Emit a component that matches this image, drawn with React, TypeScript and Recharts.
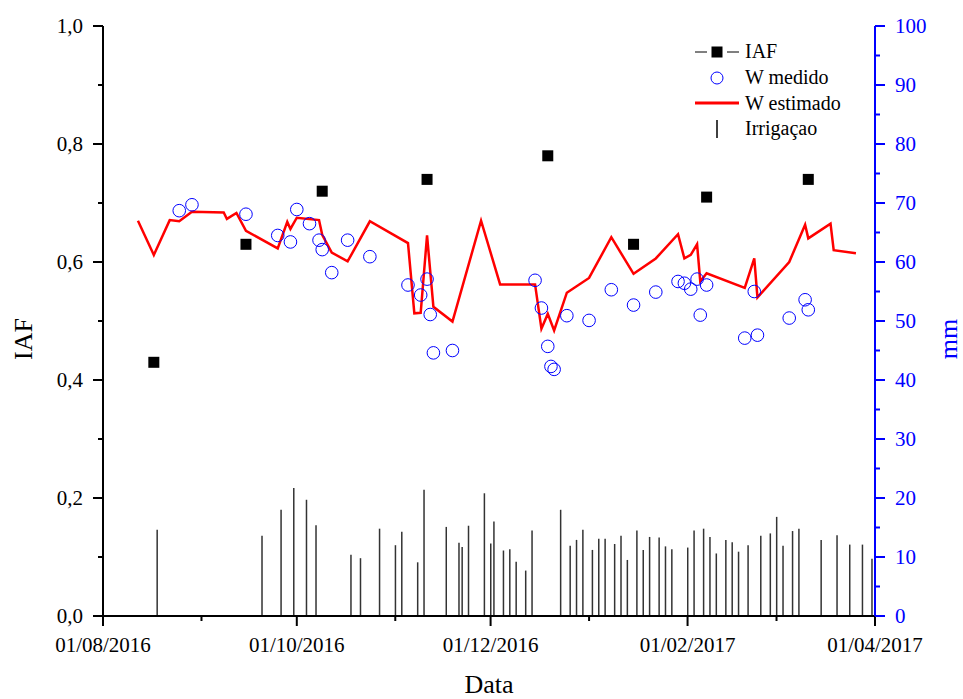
import { ComposedChart, Line, Scatter, Bar, XAxis, YAxis, Legend } from 'recharts'

const SERIF = '"Liberation Serif", "Times New Roman", serif'
const INICIO = Date.UTC(2016, 7, 1)
const DIA_MS = 86400000

// days counted from 01/08/2016
const iafDias = [16, 45, 69, 102, 140, 167, 190, 222]
const iafValores = [0.43, 0.63, 0.72, 0.74, 0.78, 0.63, 0.71, 0.74]

const medidoDias = [
  24, 28, 45, 55, 59, 61, 65, 68, 69, 72, 77, 84, 96, 100, 102, 103, 104, 110,
  136, 138, 140, 141, 142, 146, 153, 160, 167, 174, 181, 183, 185, 187, 188, 190,
  202, 205, 206, 216, 221, 222,
]
const medidoMm = [
  68.7, 69.7, 68.1, 64.5, 63.4, 68.9, 66.5, 63.7, 62.1, 58.2, 63.7, 60.9, 56.1, 54.4,
  57.1, 51.1, 44.6, 45.0, 56.9, 52.2, 45.7, 42.3, 41.8, 50.9, 50.1, 55.3, 52.7, 54.9,
  56.7, 56.4, 55.4, 57.1, 51.0, 56.1, 47.1, 55.0, 47.6, 50.5, 53.6, 51.9,
]

const estimadoDias = [
  11, 16, 21, 24, 28, 38, 39, 42, 45, 55, 58, 59, 61, 68, 69, 72, 77, 84, 96, 98,
  100, 102, 104, 110, 119, 125, 136, 138, 140, 142, 146, 153, 160, 167, 174, 181,
  183, 185, 187, 188, 190, 202, 205, 206, 216, 221, 222, 229, 230, 237,
]
const estimadoMm = [
  67.0, 61.2, 67.1, 66.9, 68.5, 68.4, 67.3, 68.3, 65.3, 62.3, 66.8, 65.6, 67.5, 67.1,
  64.6, 61.6, 60.1, 66.9, 63.2, 51.3, 51.4, 64.5, 52.4, 49.9, 67.0, 56.2, 56.2, 48.7,
  51.2, 48.4, 54.8, 57.3, 64.2, 58.0, 60.6, 64.7, 60.6, 61.2, 63.0, 56.7, 58.1, 55.6,
  60.6, 54.0, 60.0, 66.3, 64.0, 66.5, 62.0, 61.5,
]

const irrigacaoDias = [
  17, 50, 56, 60, 64, 67, 78, 81, 87, 92, 94, 99, 101, 108, 112, 113, 115, 120, 122,
  123, 126, 128, 130, 133, 135, 144, 147, 149, 151, 154, 156, 158, 161, 163, 165, 168,
  170, 172, 175, 177, 179, 184, 186, 189, 191, 193, 196, 198, 200, 203, 207, 210, 212,
  214, 217, 219, 226, 231, 235, 239, 242,
]
const irrigacaoMm = [
  14.6, 13.6, 18.0, 21.7, 19.7, 15.4, 10.4, 9.8, 14.8, 12.0, 14.3, 9.1, 21.4, 15.1,
  12.4, 11.7, 15.3, 20.8, 12.3, 16.0, 11.1, 11.3, 9.2, 7.7, 14.5, 18.0, 11.9, 12.9,
  14.6, 11.2, 13.1, 13.1, 12.2, 13.6, 9.5, 14.5, 11.2, 13.4, 13.3, 11.8, 11.3, 11.6,
  14.5, 14.8, 13.4, 10.6, 12.9, 12.5, 10.9, 12.0, 13.6, 14.0, 16.8, 11.9, 14.4, 14.8,
  12.9, 13.7, 12.1, 12.1, 9.7,
]

const xTicks = [0, 31, 61, 92, 122, 153, 184, 212, 243]
const xMajor = [0, 61, 122, 184, 243]
const iafTicks = [0, 0.1, 0.2, 0.3, 0.4, 0.5, 0.6, 0.7, 0.8, 0.9, 1.0]
const mmTicks = [0, 5, 10, 15, 20, 25, 30, 35, 40, 45, 50, 55, 60, 65, 70, 75, 80, 85, 90, 95, 100]

const iafData = iafDias.map((dia, i) => ({ dia, iaf: iafValores[i] }))
const medidoData = medidoDias.map((dia, i) => ({ dia, medido: medidoMm[i] }))
const estimadoData = estimadoDias.map((dia, i) => ({ dia, estimado: estimadoMm[i] }))
const irrigacaoData = irrigacaoDias.map((dia, i) => ({ dia, irrigacao: irrigacaoMm[i] }))

const BLUE = '#0000ff'

function fmtData(d: number) {
  const dt = new Date(INICIO + d * DIA_MS)
  const dd = String(dt.getUTCDate()).padStart(2, '0')
  const mm = String(dt.getUTCMonth() + 1).padStart(2, '0')
  return `${dd}/${mm}/${dt.getUTCFullYear()}`
}

function BottomTick({ x, y, payload }: any) {
  const major = xMajor.includes(payload.value)
  return (
    <g>
      <line x1={x} x2={x} y1={y} y2={y + (major ? 10 : 5)} stroke="#000" strokeWidth={2} />
      {major && (
        <text x={x} y={y + 36} textAnchor="middle" fontFamily={SERIF} fontSize={21} fill="#000">
          {fmtData(payload.value)}
        </text>
      )}
    </g>
  )
}

function TopTick({ x, y, payload }: any) {
  const major = xMajor.includes(payload.value)
  return <line x1={x} x2={x} y1={y} y2={y + (major ? 10 : 5)} stroke="#000" strokeWidth={2} />
}

function LeftTick({ x, y, payload }: any) {
  const major = Math.round(payload.value * 10) % 2 === 0
  return (
    <g>
      <line x1={x - (major ? 10 : 5)} x2={x} y1={y} y2={y} stroke="#000" strokeWidth={2} />
      {major && (
        <text x={x - 20} y={y} dy="0.35em" textAnchor="end" fontFamily={SERIF} fontSize={21} fill="#000">
          {payload.value.toFixed(1).replace('.', ',')}
        </text>
      )}
    </g>
  )
}

function RightTick({ x, y, payload }: any) {
  const major = payload.value % 10 === 0
  return (
    <g>
      <line x1={x} x2={x + (major ? 10 : 5)} y1={y} y2={y} stroke={BLUE} strokeWidth={2} />
      {major && (
        <text x={x + 20} y={y} dy="0.35em" textAnchor="start" fontFamily={SERIF} fontSize={21} fill={BLUE}>
          {payload.value}
        </text>
      )}
    </g>
  )
}

function Square({ cx, cy }: any) {
  return <rect x={cx - 5.5} y={cy - 5.5} width={11} height={11} fill="#000" />
}

function Circle({ cx, cy }: any) {
  return <circle cx={cx} cy={cy} r={6.3} fill="none" stroke={BLUE} strokeWidth={1} />
}

const legendRows = [
  {
    label: 'IAF',
    icon: (
      <g>
        <line x1={3} x2={15} y1={13} y2={13} stroke="#000" strokeWidth={1} />
        <rect x={19.5} y={7.5} width={11} height={11} fill="#000" />
        <line x1={35} x2={47} y1={13} y2={13} stroke="#000" strokeWidth={1} />
      </g>
    ),
  },
  { label: 'W medido', icon: <circle cx={25} cy={13} r={6} fill="none" stroke={BLUE} strokeWidth={1} /> },
  { label: 'W estimado', icon: <line x1={3} x2={47} y1={13} y2={13} stroke="#ff0000" strokeWidth={3} /> },
  { label: 'Irrigaçao', icon: <line x1={25} x2={25} y1={4} y2={22} stroke="#000" strokeWidth={1.5} /> },
]

function Legenda() {
  return (
    <div style={{ fontFamily: SERIF, fontSize: 20, color: '#000' }}>
      {legendRows.map(r => (
        <div key={r.label} style={{ display: 'flex', alignItems: 'center', height: 25.7 }}>
          <svg width={50} height={26} style={{ marginRight: 3 }}>
            {r.icon}
          </svg>
          <span>{r.label}</span>
        </div>
      ))}
    </div>
  )
}

export default function App() {
  return (
    <div style={{ position: 'absolute', left: 0, top: 0, background: '#fff' }}>
      <style>{'body{margin:0;background:#fff}'}</style>
      <ComposedChart
        width={963}
        height={699}
        data={irrigacaoData}
        margin={{ top: 26, right: 0, bottom: 0, left: 0 }}
        style={{ fontFamily: SERIF }}
      >
        <XAxis
          dataKey="dia"
          type="number"
          domain={[0, 243]}
          ticks={xTicks}
          interval={0}
          allowDataOverflow
          height={83}
          tickSize={0}
          tickMargin={0}
          tickLine={false}
          axisLine={{ stroke: '#000', strokeWidth: 2 }}
          tick={<BottomTick />}
          label={{
            content: () => (
              <text x={489} y={693} textAnchor="middle" fontFamily={SERIF} fontSize={26} fill="#000">
                Data
              </text>
            ),
          }}
        />
        <XAxis
          xAxisId="top"
          orientation="top"
          dataKey="dia"
          type="number"
          domain={[0, 243]}
          ticks={xTicks}
          interval={0}
          allowDataOverflow
          height={0}
          tickSize={0}
          tickMargin={0}
          tickLine={false}
          axisLine={{ stroke: '#000', strokeWidth: 2 }}
          tick={<TopTick />}
        />
        <YAxis
          yAxisId="iaf"
          orientation="left"
          type="number"
          domain={[0, 1]}
          ticks={iafTicks}
          interval={0}
          width={103}
          tickSize={0}
          tickMargin={0}
          tickLine={false}
          axisLine={{ stroke: '#000', strokeWidth: 2 }}
          tick={<LeftTick />}
          label={{
            content: () => (
              <text
                x={0}
                y={0}
                transform="translate(32 339) rotate(-90)"
                textAnchor="middle"
                fontFamily={SERIF}
                fontSize={26}
                fill="#000"
              >
                IAF
              </text>
            ),
          }}
        />
        <YAxis
          yAxisId="mm"
          orientation="right"
          type="number"
          domain={[0, 100]}
          ticks={mmTicks}
          interval={0}
          width={88}
          tickSize={0}
          tickMargin={0}
          tickLine={false}
          axisLine={{ stroke: BLUE, strokeWidth: 2 }}
          tick={<RightTick />}
          label={{
            content: () => (
              <text
                x={0}
                y={0}
                transform="translate(957 339) rotate(-90)"
                textAnchor="middle"
                fontFamily={SERIF}
                fontSize={26}
                fill={BLUE}
              >
                mm
              </text>
            ),
          }}
        />
        <Legend
          layout="vertical"
          align="center"
          verticalAlign="middle"
          wrapperStyle={{ top: 39, left: 692, width: 200 }}
          content={<Legenda />}
        />
        <Bar
          yAxisId="mm"
          dataKey="irrigacao"
          barSize={1.5}
          fill="#333"
          isAnimationActive={false}
          legendType="none"
        />
        <Line
          yAxisId="mm"
          data={estimadoData}
          dataKey="estimado"
          type="linear"
          stroke="#ff0000"
          strokeWidth={2.5}
          dot={false}
          activeDot={false}
          isAnimationActive={false}
        />
        <Scatter
          yAxisId="mm"
          data={medidoData}
          dataKey="medido"
          shape={<Circle />}
          isAnimationActive={false}
        />
        <Scatter
          yAxisId="iaf"
          data={iafData}
          dataKey="iaf"
          shape={<Square />}
          isAnimationActive={false}
        />
      </ComposedChart>
    </div>
  )
}
